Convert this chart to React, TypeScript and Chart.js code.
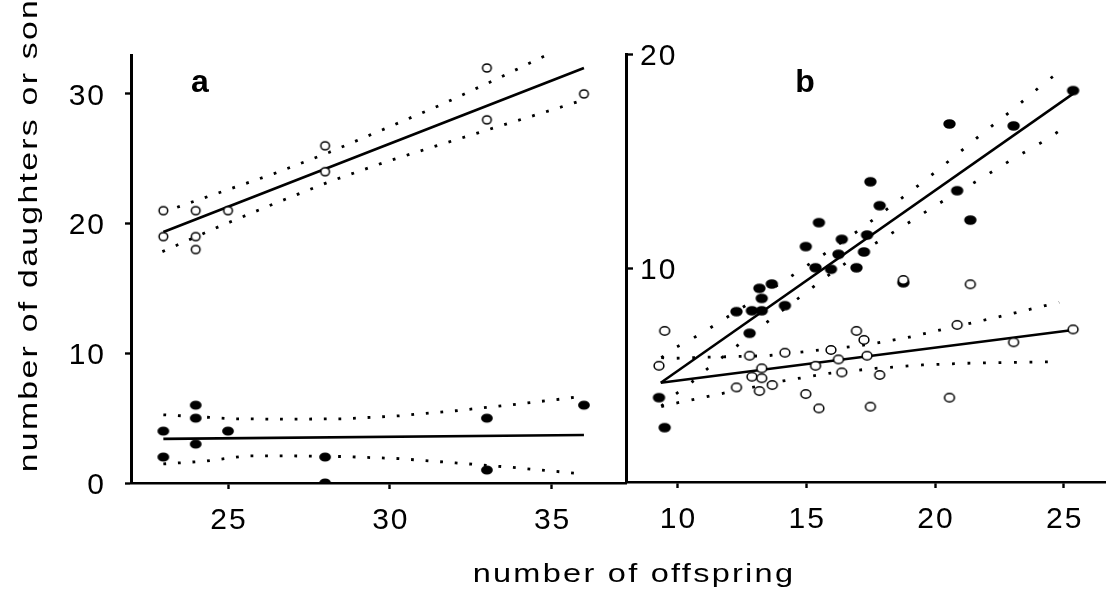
import React, { useEffect, useRef } from 'react';
import { Chart, registerables } from 'chart.js';
Chart.register(...registerables);

const FONT = '"Liberation Sans", Arial, Helvetica, sans-serif';

// ---------- tick labels ----------
const aXTicks = [25, 30, 35];
const aYTicks = [0, 10, 20, 30];
const bXTicks = [10, 15, 20, 25];
const bYTicks = [10, 20];

// ---------- panel a ----------
const aOpenX = [23, 23, 24, 24, 24, 25, 28, 28, 33, 33, 36];
const aOpenY = [21, 19, 21, 19, 18, 21, 26, 24, 32, 28, 30];
const aFilledX = [23, 23, 24, 24, 24, 25, 28, 28, 33, 33, 36];
const aFilledY = [4, 2, 6, 5, 3, 4, 2, 0, 5, 1, 6];

const aOpenLineX = [23, 36];
const aOpenLineY = [19.35, 32.0];
const aOpenUpperX = [23, 23.4, 24.72, 26.42, 28.13, 29.86, 31.6, 33.32, 34.89];
const aOpenUpperY = [20.9, 21.24, 22.38, 23.85, 25.5, 27.33, 29.18, 31.17, 33.05];
const aOpenLowerX = [22.97, 24.72, 26.42, 28.13, 29.86, 31.6, 33.32, 35.04, 35.9];
const aOpenLowerY = [17.84, 19.77, 21.53, 23.23, 24.75, 26.12, 27.46, 28.79, 29.47];

const aFilledLineX = [23, 36];
const aFilledLineY = [3.4, 3.7];
const aFilledUpperX = [23, 24.28, 25.13, 26.87, 28.57, 30.29, 32.03, 33.76, 35.45, 35.9];
const aFilledUpperY = [5.26, 5.08, 4.95, 4.92, 4.95, 5.18, 5.57, 6.03, 6.52, 6.68];
const aFilledLowerX = [23, 24.28, 25.55, 26.87, 28.57, 30.29, 32.03, 33.76, 35.45, 35.9];
const aFilledLowerY = [1.47, 1.68, 2.09, 2.09, 2.04, 1.88, 1.55, 1.21, 0.82, 0.72];

// ---------- panel b ----------
const bFilledX = [25.36, 20.56, 23.05, 17.49, 20.86, 17.85, 15.49, 21.37, 14.98, 16.38, 17.36, 16.25, 17.24, 15.36, 15.96, 16.95, 18.77, 13.18, 13.66, 13.27, 12.29, 12.89, 13.27, 14.17, 12.8, 9.28, 9.5];
const bFilledY = [18.29, 16.73, 16.64, 14.03, 13.61, 12.91, 12.12, 12.24, 11.0, 11.34, 11.54, 10.64, 10.75, 10.01, 9.94, 10.01, 9.31, 9.05, 9.25, 8.58, 7.96, 8.0, 8.0, 8.24, 6.95, 3.94, 2.54];
const bOpenX = [9.5, 9.28, 25.36, 20.86, 23.05, 16.95, 17.24, 17.36, 15.96, 16.25, 16.38, 15.36, 14.17, 12.8, 13.27, 12.89, 13.27, 13.68, 12.29, 13.18, 14.98, 15.49, 17.49, 17.85, 20.56, 18.77, 21.37];
const bOpenY = [7.06, 5.43, 7.13, 7.34, 6.53, 7.06, 6.64, 5.9, 6.17, 5.73, 5.12, 5.43, 6.04, 5.9, 5.31, 4.92, 4.85, 4.53, 4.42, 4.25, 4.11, 3.44, 3.52, 5.0, 3.94, 9.44, 9.24];

const bSteepLineX = [9.35, 25.38];
const bSteepLineY = [4.64, 18.16];
const bSteepUpperX = [9.37, 9.92, 10.53, 11.14, 11.71, 12.93, 14.1, 15.87, 17.11, 18.26, 19.5, 20.66, 21.84, 23.05, 24.23, 24.82];
const bSteepUpperY = [5.81, 6.28, 6.67, 7.1, 7.54, 8.46, 9.36, 10.79, 11.82, 12.86, 13.99, 15.12, 16.29, 17.43, 18.63, 19.17];
const bSteepLowerX = [9.37, 9.92, 10.53, 11.14, 12.31, 13.5, 14.72, 15.87, 16.49, 17.68, 18.9, 20.05, 21.84, 23.05, 24.23, 24.82];
const bSteepLowerY = [3.55, 4.1, 4.64, 5.27, 6.36, 7.49, 8.61, 9.67, 10.19, 11.15, 12.06, 12.94, 14.22, 15.12, 15.93, 16.4];

const bFlatLineX = [9.35, 25.36];
const bFlatLineY = [4.64, 7.1];
const bFlatUpperX = [9.37, 9.92, 11.14, 13.5, 15.32, 17.11, 18.9, 20.66, 22.45, 24.82];
const bFlatUpperY = [5.81, 5.78, 5.83, 5.9, 6.14, 6.37, 6.74, 7.23, 7.71, 8.4];
const bFlatLowerX = [9.37, 9.92, 11.14, 14.1, 15.87, 17.68, 19.5, 21.27, 23.05, 24.82];
const bFlatLowerY = [3.52, 3.68, 3.99, 4.72, 5.08, 5.31, 5.47, 5.55, 5.59, 5.62];

const pts = (xs: number[], ys: number[]) => xs.map((x, i) => ({ x, y: ys[i] }));

function ellipseImage(rx: number, ry: number, fill: string, lw: number) {
  const c = document.createElement('canvas');
  const w = Math.ceil(2 * rx + lw + 2);
  const h = Math.ceil(2 * ry + lw + 2);
  c.width = w;
  c.height = h;
  const g = c.getContext('2d')!;
  g.beginPath();
  g.ellipse(w / 2, h / 2, rx, ry, 0, 0, Math.PI * 2);
  g.fillStyle = fill;
  g.fill();
  if (lw > 0) {
    g.lineWidth = lw;
    g.strokeStyle = '#000';
    g.stroke();
  }
  return c;
}

const spacingPlugin = {
  id: 'letterSpacing',
  beforeLayout(chart: any, _a: any, opts: any) {
    (chart.ctx as any).letterSpacing = opts.value || '0px';
  },
  beforeDraw(chart: any, _a: any, opts: any) {
    (chart.ctx as any).letterSpacing = opts.value || '0px';
  },
};

const panelLabelPlugin = {
  id: 'panelLabel',
  afterDraw(chart: any, _a: any, opts: any) {
    const { ctx, chartArea } = chart;
    ctx.save();
    (ctx as any).letterSpacing = '0px';
    ctx.font = `bold ${opts.size}px ${FONT}`;
    ctx.fillStyle = '#000';
    ctx.textAlign = 'center';
    ctx.textBaseline = 'alphabetic';
    ctx.fillText(opts.text, chartArea.left + opts.dx, chartArea.top + opts.dy);
    ctx.restore();
  },
};

function scatterSet(data: any[], img: HTMLCanvasElement, order: number) {
  return {
    data,
    pointStyle: img,
    pointRadius: 5,
    pointHoverRadius: 5,
    showLine: false,
    order,
  };
}

function lineSet(data: any[], width: number, order: number, dash?: number[]) {
  return {
    data,
    showLine: true,
    pointRadius: 0,
    pointHoverRadius: 0,
    borderColor: '#000',
    borderWidth: width,
    borderDash: dash || [],
    borderCapStyle: 'butt',
    fill: false,
    tension: 0,
    order,
  };
}

function axisX(min: number, max: number, ticks: number[], height: number) {
  return {
    type: 'linear',
    min,
    max,
    afterBuildTicks: (s: any) => {
      s.ticks = ticks.map((v) => ({ value: v }));
    },
    afterFit: (s: any) => {
      s.height = height;
    },
    border: { display: true, color: '#000', width: 2.4 },
    grid: { display: true, drawOnChartArea: false, drawTicks: true, tickLength: 6, tickWidth: 2.4, tickColor: '#000' },
    ticks: {
      color: '#000',
      font: { family: FONT, size: 30 },
      padding: 14,
      labelOffset: 1,
      maxRotation: 0,
      autoSkip: false,
      callback: (v: any) => String(v),
    },
  };
}

function axisY(min: number, max: number, ticks: number[], width: number, mirror: boolean) {
  return {
    type: 'linear',
    min,
    max,
    afterBuildTicks: (s: any) => {
      s.ticks = ticks.map((v) => ({ value: v }));
    },
    afterFit: (s: any) => {
      s.width = width;
    },
    border: { display: true, color: '#000', width: 3 },
    grid: {
      display: true,
      drawOnChartArea: false,
      drawTicks: true,
      tickLength: mirror ? -7 : 6,
      tickWidth: 2.4,
      tickColor: '#000',
    },
    ticks: {
      color: '#000',
      font: { family: FONT, size: 30 },
      padding: mirror ? 14 : 19,
      mirror,
      labelOffset: 2.5,
      autoSkip: false,
      callback: (v: any) => String(v),
    },
  };
}

function baseOptions() {
  return {
    responsive: false,
    maintainAspectRatio: false,
    animation: false,
    events: [],
    plugins: {
      legend: { display: false },
      tooltip: { enabled: false },
      title: { display: false },
      letterSpacing: { value: '2px' },
    },
  };
}

function configA(): any {
  const open = ellipseImage(4.3, 4.0, '#fff', 1.5);
  const filled = ellipseImage(5.9, 4.6, '#000', 0);
  const dots = [2.8, 11.8];
  return {
    type: 'scatter',
    data: {
      datasets: [
        scatterSet(pts(aOpenX, aOpenY), open, 0),
        scatterSet(pts(aFilledX, aFilledY), filled, 1),
        lineSet(pts(aOpenLineX, aOpenLineY), 2.7, 2),
        lineSet(pts(aOpenUpperX, aOpenUpperY), 2.8, 3, dots),
        lineSet(pts(aOpenLowerX, aOpenLowerY), 2.8, 3, dots),
        lineSet(pts(aFilledLineX, aFilledLineY), 2.7, 2),
        lineSet(pts(aFilledUpperX, aFilledUpperY), 2.8, 3, dots),
        lineSet(pts(aFilledLowerX, aFilledLowerY), 2.8, 3, dots),
      ],
    },
    options: {
      ...baseOptions(),
      layout: { padding: { left: 0, right: 14, top: 55, bottom: 0 } },
      scales: {
        x: axisX(22, 37.3, aXTicks, 107),
        y: axisY(0, 33, aYTicks, 131, false),
      },
      plugins: {
        ...baseOptions().plugins,
        panelLabel: { text: 'a', size: 32, dx: 69, dy: 36.5 },
      },
    },
    plugins: [spacingPlugin, panelLabelPlugin],
  };
}

function configB(): any {
  const open = ellipseImage(4.9, 4.2, '#fff', 1.5);
  const filled = ellipseImage(6.2, 4.8, '#000', 0);
  return {
    type: 'scatter',
    data: {
      datasets: [
        scatterSet(pts(bOpenX, bOpenY), open, 0),
        scatterSet(pts(bFilledX, bFilledY), filled, 1),
        lineSet(pts(bSteepLineX, bSteepLineY), 2.5, 2),
        lineSet(pts(bSteepUpperX, bSteepUpperY), 2.8, 3, [2.8, 16.4]),
        lineSet(pts(bSteepLowerX, bSteepLowerY), 2.8, 3, [2.8, 16.4]),
        lineSet(pts(bFlatLineX, bFlatLineY), 2.5, 2),
        lineSet(pts(bFlatUpperX, bFlatUpperY), 2.8, 3, [2.8, 12.7]),
        lineSet(pts(bFlatLowerX, bFlatLowerY), 2.8, 3, [2.8, 12.7]),
      ],
    },
    options: {
      ...baseOptions(),
      layout: { padding: { left: 0, right: 0, top: 54, bottom: 0 } },
      scales: {
        x: axisX(8, 26.6, bXTicks, 108),
        y: axisY(0, 20, bYTicks, 66, true),
      },
      plugins: {
        ...baseOptions().plugins,
        panelLabel: { text: 'b', size: 32, dx: 179, dy: 37.5 },
      },
    },
    plugins: [spacingPlugin, panelLabelPlugin],
  };
}

export default function App() {
  const refA = useRef<HTMLCanvasElement>(null);
  const refB = useRef<HTMLCanvasElement>(null);

  useEffect(() => {
    const a = new Chart(refA.current as HTMLCanvasElement, configA());
    const b = new Chart(refB.current as HTMLCanvasElement, configB());
    return () => {
      a.destroy();
      b.destroy();
    };
  }, []);

  const titleStyle: React.CSSProperties = {
    position: 'absolute',
    width: 600,
    textAlign: 'center',
    whiteSpace: 'nowrap',
    fontFamily: FONT,
    color: '#000',
    transformOrigin: '50% 50%',
  };

  return (
    <div style={{ position: 'absolute', left: 0, top: 0, width: 1111, height: 590, overflow: 'hidden', background: '#fff' }}>
      <canvas ref={refA} width={640} height={590} style={{ position: 'absolute', left: 0, top: 0, width: 640, height: 590 }} />
      <canvas ref={refB} width={551} height={590} style={{ position: 'absolute', left: 560, top: 0, width: 551, height: 590 }} />
      <div
        style={{
          ...titleStyle,
          left: 633.5 - 300,
          top: 561,
          height: 25,
          fontSize: 25,
          lineHeight: '25px',
          letterSpacing: '1.75px',
          transform: 'scaleX(1.3)',
        }}
      >
        number of offspring
      </div>
      <div
        style={{
          ...titleStyle,
          left: 28 - 300,
          top: 235 - 13,
          height: 26,
          fontSize: 26,
          lineHeight: '26px',
          letterSpacing: '1.75px',
          transform: 'rotate(-90deg) scaleX(1.3)',
        }}
      >
        number of daughters or son
      </div>
    </div>
  );
}
